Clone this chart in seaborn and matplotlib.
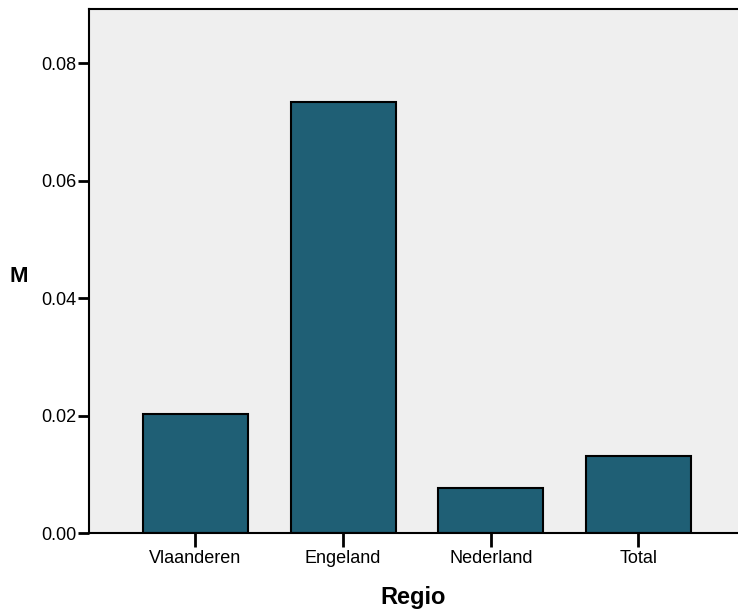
import matplotlib
matplotlib.use("Agg")
import matplotlib.pyplot as plt
import seaborn as sns
import pandas as pd

categories = ["Vlaanderen", "Engeland", "Nederland", "Total"]
values = [0.0203, 0.0734, 0.0077, 0.0131]
yticks = [0.00, 0.02, 0.04, 0.06, 0.08]

df = pd.DataFrame({"Regio": categories, "M": values})

sns.set_theme(style="white")
plt.rcParams["font.family"] = ["Liberation Sans", "DejaVu Sans"]
plt.rcParams["text.color"] = "black"
plt.rcParams["axes.labelcolor"] = "black"
plt.rcParams["xtick.color"] = "black"
plt.rcParams["ytick.color"] = "black"

fig = plt.figure(figsize=(7.38, 6.12), dpi=100)
ax = fig.add_axes([89/738, 79/612, 1 - 89/738, (533-9)/612])
ax.set_facecolor("#EFEFEF")

sns.barplot(data=df, x="Regio", y="M", color="#1F5F75", saturation=1,
            width=0.71, edgecolor="black", linewidth=1.5, ax=ax, errorbar=None)

ax.set_xlim(-0.721, 3.674)
ax.set_ylim(0, 0.0892)
ax.set_yticks(yticks)
ax.set_yticklabels([f"{t:.2f}" for t in yticks])

for s in ["left", "bottom", "top"]:
    ax.spines[s].set_visible(True)
    ax.spines[s].set_color("black")
    ax.spines[s].set_linewidth(1.5)
ax.spines["right"].set_visible(False)

ax.tick_params(axis="y", which="major", direction="out", length=8, width=2,
               color="black", labelcolor="black", labelsize=13, left=True, pad=1)
ax.tick_params(axis="x", which="major", direction="out", length=10, width=2,
               color="black", labelcolor="black", labelsize=13, bottom=True, pad=2)

ax.set_xlabel("Regio", fontsize=17, fontweight="bold", labelpad=14, color="black")
ax.set_ylabel("M", fontsize=16, fontweight="bold", rotation=0,
              va="center", ha="center", color="black")
ax.yaxis.set_label_coords(-0.109, 0.49)

fig.savefig("out.png", dpi=100)
